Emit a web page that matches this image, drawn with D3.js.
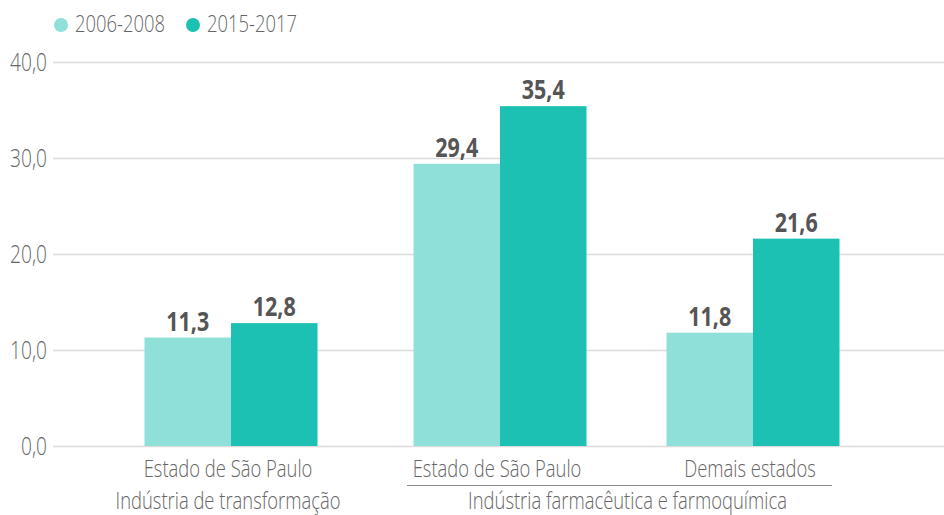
<!DOCTYPE html>
<html><head><meta charset="utf-8">
<script src="https://cdn.jsdelivr.net/npm/d3@7"></script>
<style>
html,body{margin:0;padding:0;background:#fff;}
svg{display:block;}
text{font-family:"Open Sans","Noto Sans",sans-serif;}
</style></head>
<body><svg id="c" width="944" height="515"></svg>
<script>
const categories = ["Estado de São Paulo", "Estado de São Paulo", "Demais estados"];
const groupLabels = ["Indústria de transformação", "Indústria farmacêutica e farmoquímica"];
const groupOfCategory = [0, 1, 1];
const seriesNames = ["2006-2008", "2015-2017"];
const series2006 = [11.3, 29.4, 11.8];
const series2015 = [12.8, 35.4, 21.6];
const yTicks = [0, 10, 20, 30, 40];

const colors = ["#8FE0D9", "#1CC1B3"];
const svg = d3.select("#c");
const W = 944, H = 515;
const plotTop = 62, plotBottom = 446, gridLeft = 53;
const groupGap = 16;

// measure condensed factor
function measure(str, size, weight) {
  const t = svg.append("text").attr("font-size", size).attr("font-weight", weight).text(str);
  const w = t.node().getComputedTextLength();
  t.remove();
  return w;
}
const FS = 24, FSB = 26;
const sx = 90 / measure("2006-2008", FS, 300);
const sxb = 43 / measure("35,4", FSB, "bold");

function addText(g, x, yy, str, o = {}) {
  return g.append("text")
    .attr("transform", `translate(${x},${yy}) scale(${o.bold ? sxb : sx},1)`)
    .attr("text-anchor", o.anchor || "start")
    .attr("font-size", o.size || FS)
    .attr("font-weight", o.bold ? "bold" : 300)
    .attr("fill", o.fill || "#666")
    .text(str);
}

const y = d3.scaleLinear().domain([0, 40]).range([plotBottom, plotTop]);
const x0 = d3.scaleBand().domain(d3.range(categories.length)).range([104.5, 104.5 + 3 * 253]).paddingInner(0).paddingOuter(0);
const xc = i => x0(i) + x0.bandwidth() / 2 + (groupOfCategory[i] > 0 ? groupGap : 0);
const barW = 86.5;
const x1 = d3.scaleBand().domain([0, 1]).range([-barW, barW]).padding(0);

const fmt = v => d3.format(".1f")(v).replace(".", ",");

// gridlines
svg.append("g").selectAll("line").data(yTicks).join("line")
  .attr("x1", gridLeft).attr("x2", W)
  .attr("y1", d => Math.round(y(d)) + 0.5).attr("y2", d => Math.round(y(d)) + 0.5)
  .attr("stroke", "#dcdcdc").attr("stroke-width", 1.5);

// y tick labels
const gy = svg.append("g");
yTicks.forEach(d => addText(gy, 47, y(d) + 9, fmt(d), { anchor: "end", size: 25 }));

// bars
const data = categories.map((c, i) => [series2006[i], series2015[i]]);
const gBars = svg.append("g");
data.forEach((vals, i) => {
  vals.forEach((v, s) => {
    gBars.append("rect")
      .attr("x", xc(i) + x1(s)).attr("width", x1.bandwidth())
      .attr("y", y(v)).attr("height", y(0) - y(v))
      .attr("fill", colors[s]);
    addText(gBars, xc(i) + x1(s) + x1.bandwidth() / 2, y(v) - 7, fmt(v),
      { anchor: "middle", bold: true, size: FSB, fill: "#555" });
  });
});

// category labels
const gc = svg.append("g");
categories.forEach((d, i) => addText(gc, xc(i) - 3, 477, d, { anchor: "middle" }));

// group labels
const gg = svg.append("g");
groupLabels.forEach((g, gi) => {
  const idx = d3.range(categories.length).filter(i => groupOfCategory[i] === gi);
  const first = idx[0], last = idx[idx.length - 1];
  let cx;
  if (idx.length > 1) {
    const lx1 = xc(first) - 93, lx2 = xc(last) + 79;
    gg.append("line").attr("x1", lx1).attr("x2", lx2).attr("y1", 485.5).attr("y2", 485.5)
      .attr("stroke", "#888").attr("stroke-width", 1);
    cx = (lx1 + lx2) / 2 + 8;
  } else {
    cx = xc(first) - 3;
  }
  addText(gg, cx, 509, g, { anchor: "middle" });
});

// legend
const leg = svg.append("g");
const legX = [61, 193];
seriesNames.forEach((n, i) => {
  leg.append("circle").attr("cx", legX[i]).attr("cy", 25).attr("r", 7).attr("fill", colors[i]);
  addText(leg, legX[i] + 14, 32, n);
});
</script></body></html>
